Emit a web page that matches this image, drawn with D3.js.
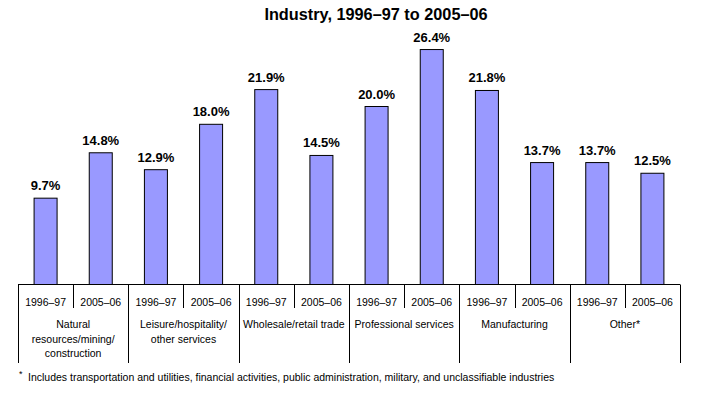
<!DOCTYPE html>
<html>
<head>
<meta charset="utf-8">
<script src="https://cdn.jsdelivr.net/npm/d3@7"></script>
<style>
  body { margin: 0; background: #fff; }
  svg { display: block; font-family: Arial, "Liberation Sans", sans-serif; }
</style>
</head>
<body>
<div id="chart"></div>
<script>
// data
const industries = [
  ["Natural", "resources/mining/", "construction"],
  ["Leisure/hospitality/", "other services"],
  ["Wholesale/retail trade"],
  ["Professional services"],
  ["Manufacturing"],
  ["Other*"]
];
const periods = ["1996–97", "2005–06"];
const values1996 = [9.7, 12.9, 21.9, 20.0, 21.8, 13.7];
const values2005 = [14.8, 18.0, 14.5, 26.4, 13.7, 12.5];
const titleText = "Industry, 1996–97 to 2005–06";
const footnoteText = "Includes transportation and utilities, financial activities, public administration, military, and unclassifiable industries";

const W = 705, H = 393;
const left = 18, right = 680, base = 284.5;

const svg = d3.select("#chart").append("svg")
  .attr("width", W).attr("height", H);

// scales
const x0 = d3.scaleBand()
  .domain(d3.range(industries.length))
  .range([left, right])
  .paddingInner(0).paddingOuter(0);

const x1 = d3.scaleBand()
  .domain(periods)
  .range([0, x0.bandwidth()])
  .padding(0);

const y = d3.scaleLinear()
  .domain([0, 30])
  .range([base, base - 267]);

const barW = 23;

const rows = [];
industries.forEach((ind, i) => {
  rows.push({ g: i, p: periods[0], v: values1996[i] });
  rows.push({ g: i, p: periods[1], v: values2005[i] });
});

// title
svg.append("text")
  .attr("x", 376).attr("y", 19.5)
  .attr("text-anchor", "middle")
  .style("font-size", "16.3px").style("font-weight", "bold")
  .text(titleText);

// bars
svg.selectAll("rect.bar")
  .data(rows)
  .enter()
  .append("rect")
  .attr("class", "bar")
  .attr("x", d => x0(d.g) + x1(d.p) + x1.bandwidth() / 2 - barW / 2)
  .attr("y", d => y(d.v))
  .attr("width", barW)
  .attr("height", d => base - y(d.v))
  .attr("fill", "#9999ff")
  .attr("stroke", "#000")
  .attr("stroke-width", 1);

// value labels
svg.selectAll("text.val")
  .data(rows)
  .enter()
  .append("text")
  .attr("class", "val")
  .attr("x", d => x0(d.g) + x1(d.p) + x1.bandwidth() / 2)
  .attr("y", d => y(d.v) - 8)
  .attr("text-anchor", "middle")
  .style("font-size", "13px").style("font-weight", "bold")
  .text(d => d.v.toFixed(1) + "%");

// axis baseline
svg.append("line")
  .attr("x1", left).attr("x2", right)
  .attr("y1", base).attr("y2", base)
  .attr("stroke", "#000").attr("stroke-width", 1);

// group dividers (long)
const groupEdges = d3.range(industries.length).map(i => x0(i)).concat([right]);
svg.selectAll("line.gdiv")
  .data(groupEdges)
  .enter()
  .append("line")
  .attr("class", "gdiv")
  .attr("x1", d => Math.round(d) + 0.5).attr("x2", d => Math.round(d) + 0.5)
  .attr("y1", base).attr("y2", 363)
  .attr("stroke", "#000").attr("stroke-width", 1);

// sub dividers (short)
svg.selectAll("line.sdiv")
  .data(d3.range(industries.length))
  .enter()
  .append("line")
  .attr("class", "sdiv")
  .attr("x1", i => Math.round(x0(i) + x1(periods[1])) + 0.5)
  .attr("x2", i => Math.round(x0(i) + x1(periods[1])) + 0.5)
  .attr("y1", base).attr("y2", 308)
  .attr("stroke", "#000").attr("stroke-width", 1);

// period labels
svg.selectAll("text.per")
  .data(rows)
  .enter()
  .append("text")
  .attr("class", "per")
  .attr("x", d => x0(d.g) + x1(d.p) + x1.bandwidth() / 2)
  .attr("y", 306)
  .attr("text-anchor", "middle")
  .style("font-size", "10.5px")
  .text(d => d.p);

// industry labels
const cat = svg.selectAll("text.cat")
  .data(industries)
  .enter()
  .append("text")
  .attr("class", "cat")
  .attr("text-anchor", "middle")
  .style("font-size", "10.5px");

cat.selectAll("tspan")
  .data((d, i) => d.map(line => ({ line, i })))
  .enter()
  .append("tspan")
  .attr("x", d => x0(d.i) + x0.bandwidth() / 2)
  .attr("y", (d, j) => 328 + j * 14.5)
  .text(d => d.line);

// footnote
svg.append("text")
  .attr("x", 19).attr("y", 377)
  .style("font-size", "9px")
  .text("*");
svg.append("text")
  .attr("x", 28).attr("y", 381)
  .style("font-size", "10.5px")
  .text(footnoteText);
</script>
</body>
</html>
